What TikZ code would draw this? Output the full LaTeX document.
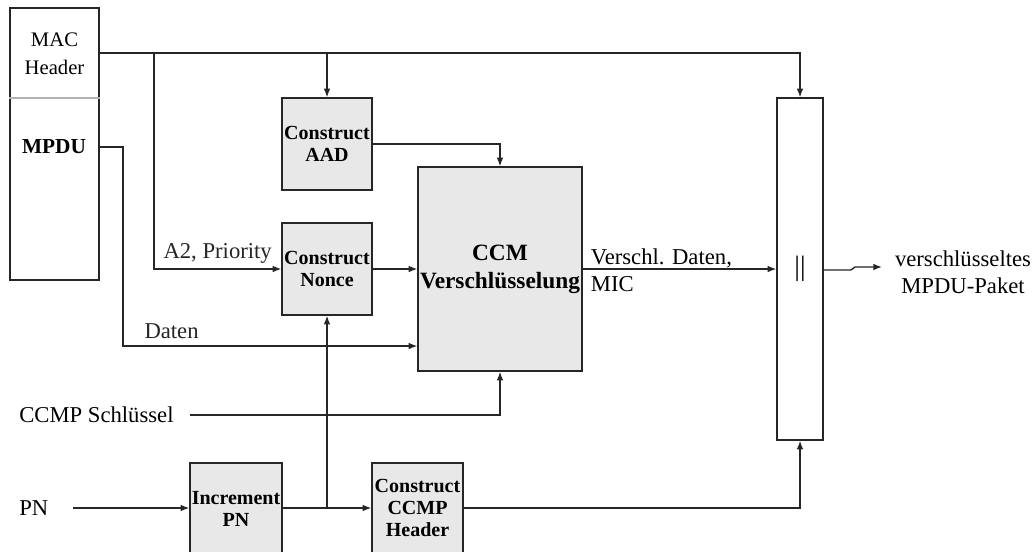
\documentclass[tikz,border=0pt]{standalone}
\usepackage{fontspec}
\setmainfont{Liberation Serif}
\usetikzlibrary{arrows.meta,calc}
\begin{document}
\begin{tikzpicture}[x=0.75pt,y=-0.75pt,
  sz/.style 2 args={minimum width=#1*0.75pt, minimum height=#2*0.75pt},
  box/.style={draw=black!85, line width=1pt, fill=black!9, inner sep=0pt,
    align=center, font=\fontsize{15}{17}\selectfont\bfseries},
  boxtext/.style={inner sep=0pt, align=center, font=\fontsize{15}{16.5}\selectfont\bfseries},
  plain/.style={draw=black!85, line width=1pt, fill=white, inner sep=0pt, align=center},
  txt/.style={inner sep=0pt, align=center, font=\fontsize{17}{20}\selectfont},
  arr/.style={-{Latex[length=6.5pt,width=5pt]}, line width=1pt, black!85},
  ln/.style={line width=1pt, black!85}]
\clip (0,0) rectangle (1032,551);
\fill[white] (0,0) rectangle (1032,551);
% blocks
\node[plain, sz={89}{272}] (lbox) at (54.5,144) {};
\draw[black!30, line width=0.8pt] (lbox.west |- 0,98) -- (lbox.east |- 0,98);
\node[txt, font=\fontsize{15.5}{21}\selectfont] (mac) at (54.5,54) {MAC\\Header};
\node[txt, font=\fontsize{16}{20}\selectfont\bfseries] (mpdu) at (54,147) {MPDU};
\node[box, sz={90}{92}] (aad) at (327,144) {Construct\\AAD};
\node[box, sz={90}{92}] (nonce) at (327,269) {Construct\\Nonce};
\node[box, sz={164}{204}, font=\fontsize{17.5}{21}\selectfont\bfseries] (ccm) at (500,269) {CCM\\Verschlüsselung};
\node[plain, sz={46}{342}] (cat) at (800,269) {};
\node[inner sep=0pt, font=\fontsize{21}{21}\selectfont] (bars) at (cat.center) {||};
\node[box, sz={92}{130}] (inc) at (236,528) {};
\node[boxtext] (inct) at (236,509) {Increment\\PN};
\node[box, sz={91}{130}] (hdr) at (417.5,528) {};
\node[boxtext] (hdrt) at (417.5,508) {Construct\\CCMP\\Header};
% free texts
\node[txt, anchor=west] (pn) at (19,508) {PN};
\node[txt, anchor=west] (key) at (19,415) {CCMP Schlüssel};
\node[txt] (out) at (963,272) {verschlüsseltes\\MPDU-Paket};
% junction coordinates
\coordinate (top) at (lbox.east |- 0,53);
\coordinate (j1) at (154,53);
\coordinate (d1) at (123,346);
\coordinate (o1) at (851,270);
\coordinate (o2) at (855,267);
\coordinate (o3) at (882,267);
% connectors
\draw[arr] (top) -| (cat.north);
\draw[arr] (j1) |- (nonce.west) node[txt, pos=0.75, above=4pt] (lab1) {A2, Priority};
\draw[arr] (aad.north |- top) -- (aad.north);
\draw[arr] (aad.east) -| (ccm.north);
\draw[arr] (nonce.east) -- (ccm.west |- nonce.east);
\draw[arr] (lbox.east |- mpdu) -| (d1) -- (ccm.west |- d1) node[txt, pos=0.165, above=5pt] (lab2) {Daten};
\draw[arr] ([xshift=12pt]key.east) -| (ccm.south);
\draw[arr] ([xshift=18pt]pn.east) -- (pn -| inc.west);
\draw[arr] (inc.east |- pn) -- (hdr.west |- pn);
\draw[arr] (nonce.south |- pn) -- (nonce.south);
\draw[arr] (hdr.east |- pn) -| (cat.south);
\draw[arr] (ccm.east |- cat.west) -- (cat.west);
\node[txt, anchor=south west, align=left] (lab3) at ([xshift=6pt,yshift=-17pt]ccm.east) {Verschl. Daten,\\MIC};
\draw[arr] (cat.east |- o1) -- (o1) -- (o2) -- (o3);
\end{tikzpicture}
\end{document}
